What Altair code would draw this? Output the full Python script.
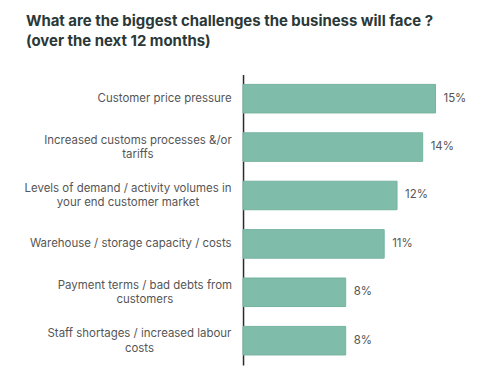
import altair as alt
import pandas as pd

categories = [
    "Customer price pressure",
    "Increased customs processes &/or\ntariffs",
    "Levels of demand / activity volumes in\nyour end customer market",
    "Warehouse / storage capacity / costs",
    "Payment terms / bad debts from\ncustomers",
    "Staff shortages / increased labour\ncosts",
]
values = [15, 14, 12, 11, 8, 8]
value_labels = ["15%", "14%", "12%", "11%", "8%", "8%"]

df = pd.DataFrame({"cat": categories, "val": values, "lab": value_labels})

multi = "indexof(datum.value, '\\n') >= 0"

y = alt.Y(
    "cat:N",
    sort=None,
    title=None,
    scale=alt.Scale(paddingInner=0.41, paddingOuter=0.205),
    axis=alt.Axis(
        domainColor="#2b2b2b",
        domainWidth=1.5,
        ticks=False,
        labelFont="Inter",
        labelFontSize=11.5,
        labelColor="#555555",
        labelLimit=300,
        labelLineHeight=14.5,
        labelExpr="split(datum.label, '\\n')",
        labelOffset={"condition": {"test": multi, "value": -6.5}, "value": 0},
        labelAlign={"condition": {"test": multi, "value": "center"}, "value": "right"},
        labelPadding={
            "condition": [
                {"test": "indexof(datum.value, 'Increased') == 0", "value": 106},
                {"test": "indexof(datum.value, 'Levels') == 0", "value": 116},
                {"test": "indexof(datum.value, 'Payment') == 0", "value": 99},
                {"test": "indexof(datum.value, 'Staff') == 0", "value": 104.5},
            ],
            "value": 12,
        },
    ),
)
x = alt.X("val:Q", axis=None, scale=alt.Scale(domain=[0, 19.4]))

bars = alt.Chart(df).mark_bar(color="#80bcaa", stroke="#74b39f", strokeWidth=1).encode(x=x, y=y)
text = alt.Chart(df).mark_text(
    align="left", dx=8, font="Inter", fontSize=11.5, color="#555555"
).encode(x=x, y=y, text="lab:N")

chart = (
    alt.layer(bars, text)
    .properties(
        width=250,
        height=291.6,
        autosize=alt.AutoSizeParams(type="none"),
        padding={"left": 236, "top": 66, "right": 0, "bottom": 10},
        title=alt.Title(
            ["What are the biggest challenges the business will face ?", "(over the next 12 months)"],
            anchor="start",
            frame="group",
            dx=-218,
            font="Inter",
            fontSize=15,
            fontWeight="bold",
            color="#2b3838",
            lineHeight=20,
            offset=26,
        ),
    )
    .configure_view(stroke=None)
)

chart.save("out.html", embed_options={"renderer": "svg", "actions": False})
